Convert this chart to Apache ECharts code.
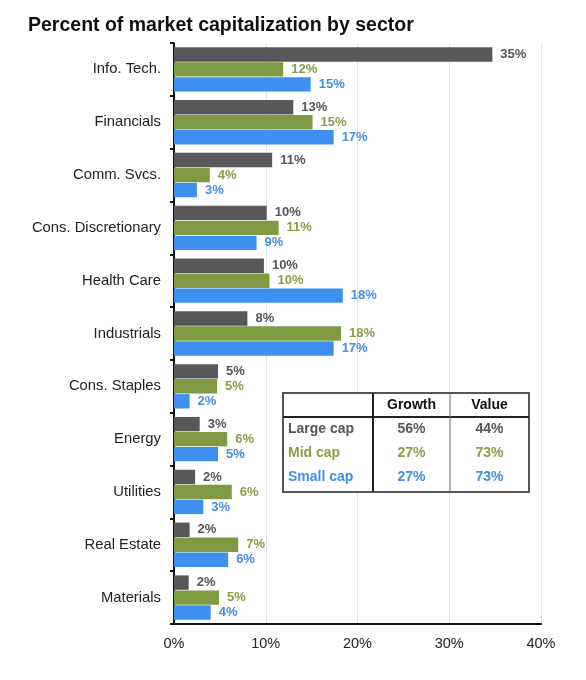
<!DOCTYPE html>
<html lang="en">
<head>
    <meta charset="UTF-8">
    <title>Percent of market capitalization by sector</title>
    <script src="https://cdn.jsdelivr.net/npm/echarts@6/dist/echarts.min.js"></script>
</head>
<body style="margin:0;background:#fff;">
    <div id="main" style="width:586px;height:680px;"></div>
    <script type="text/javascript">
        // sectors, top to bottom
        var sectors = ['Info. Tech.', 'Financials', 'Comm. Svcs.', 'Cons. Discretionary', 'Health Care',
            'Industrials', 'Cons. Staples', 'Energy', 'Utilities', 'Real Estate', 'Materials'];
        var largeCap = [34.7, 13.0, 10.7, 10.1, 9.8, 8.0, 4.8, 2.8, 2.3, 1.7, 1.6];
        var midCap = [11.9, 15.1, 3.9, 11.4, 10.4, 18.2, 4.7, 5.8, 6.3, 7.0, 4.9];
        var smallCap = [14.9, 17.4, 2.5, 9.0, 18.4, 17.4, 1.7, 4.8, 3.2, 5.9, 4.0];
        var xTicks = [0, 10, 20, 30, 40];

        // growth / value split table
        var tableRows = ['Large cap', 'Mid cap', 'Small cap'];
        var tableCols = ['Growth', 'Value'];
        var growthPct = [56, 27, 27];
        var valuePct = [44, 73, 73];

        var barColors = ['#58585a', '#7f9a42', '#3d8ff0'];
        var textColors = ['#555557', '#8a9c48', '#438fe0'];
        var font = 'Arial, "Liberation Sans", sans-serif';

        var myChart = echarts.init(document.getElementById('main'));

        function makeSeries(name, data, i) {
            return {
                name: name,
                type: 'bar',
                data: data,
                barGap: '4%',
                barCategoryGap: '16%',
                itemStyle: { color: barColors[i] },
                label: {
                    show: true,
                    position: 'right',
                    distance: 8,
                    color: textColors[i],
                    fontFamily: font,
                    fontWeight: 'bold',
                    fontSize: 13,
                    formatter: function (p) { return Math.round(p.value) + '%'; }
                },
                silent: true
            };
        }

        // table drawn with graphic elements, on top of the grid lines
        var tb = { x: 283, y: 393, w: 246, h: 99, head: 24, c1: 373, c2: 450 };
        var tableEls = [
            { type: 'rect', z: 100, shape: { x: tb.x, y: tb.y, width: tb.w, height: tb.h },
              style: { fill: '#fff', stroke: '#555', lineWidth: 2 } },
            { type: 'line', z: 101, shape: { x1: tb.x, y1: tb.y + tb.head, x2: tb.x + tb.w, y2: tb.y + tb.head },
              style: { stroke: '#222', lineWidth: 2 } },
            { type: 'line', z: 101, shape: { x1: tb.c1, y1: tb.y, x2: tb.c1, y2: tb.y + tb.h },
              style: { stroke: '#222', lineWidth: 2 } },
            { type: 'line', z: 101, shape: { x1: tb.c2, y1: tb.y, x2: tb.c2, y2: tb.y + tb.h },
              style: { stroke: '#666', lineWidth: 1 } }
        ];
        var colX = [(tb.c1 + tb.c2) / 2, (tb.c2 + tb.x + tb.w) / 2];
        tableCols.forEach(function (c, j) {
            tableEls.push({ type: 'text', z: 102, x: colX[j], y: tb.y + tb.head / 2,
                style: { text: c, fill: '#111', font: 'bold 14px ' + font, align: 'center', verticalAlign: 'middle' } });
        });
        tableRows.forEach(function (r, i) {
            var y = tb.y + tb.head + 12 + i * 24;
            var st = { fill: textColors[i], font: 'bold 14px ' + font, verticalAlign: 'middle' };
            tableEls.push({ type: 'text', z: 102, x: tb.x + 5, y: y, style: Object.assign({ text: r, align: 'left' }, st) });
            tableEls.push({ type: 'text', z: 102, x: colX[0], y: y, style: Object.assign({ text: growthPct[i] + '%', align: 'center' }, st) });
            tableEls.push({ type: 'text', z: 102, x: colX[1], y: y, style: Object.assign({ text: valuePct[i] + '%', align: 'center' }, st) });
        });

        myChart.setOption({
            animation: false,
            title: {
                text: 'Percent of market capitalization by sector',
                left: 23,
                top: 11,
                textStyle: { fontFamily: font, fontWeight: 'bold', fontSize: 19.5, color: '#111' }
            },
            grid: { left: 174, right: 45, top: 43, bottom: 56 },
            xAxis: {
                type: 'value',
                min: xTicks[0],
                max: xTicks[xTicks.length - 1],
                interval: 10,
                axisLine: { show: true, lineStyle: { color: '#111', width: 2 } },
                axisTick: { show: false },
                splitLine: { show: true, lineStyle: { color: '#e2e2e2', width: 1 } },
                axisLabel: {
                    margin: 12,
                    color: '#222',
                    fontFamily: font,
                    fontSize: 14.5,
                    formatter: function (v) { return v + '%'; }
                }
            },
            yAxis: {
                type: 'category',
                data: sectors,
                inverse: true,
                axisLine: { show: true, lineStyle: { color: '#111', width: 2 } },
                axisTick: { show: true, length: 4, lineStyle: { color: '#111', width: 2 } },
                axisLabel: { margin: 13, color: '#222', fontFamily: font, fontSize: 14.8 }
            },
            series: [
                makeSeries('Large cap', largeCap, 0),
                makeSeries('Mid cap', midCap, 1),
                makeSeries('Small cap', smallCap, 2)
            ],
            graphic: { elements: tableEls }
        });
    </script>
</body>
</html>
